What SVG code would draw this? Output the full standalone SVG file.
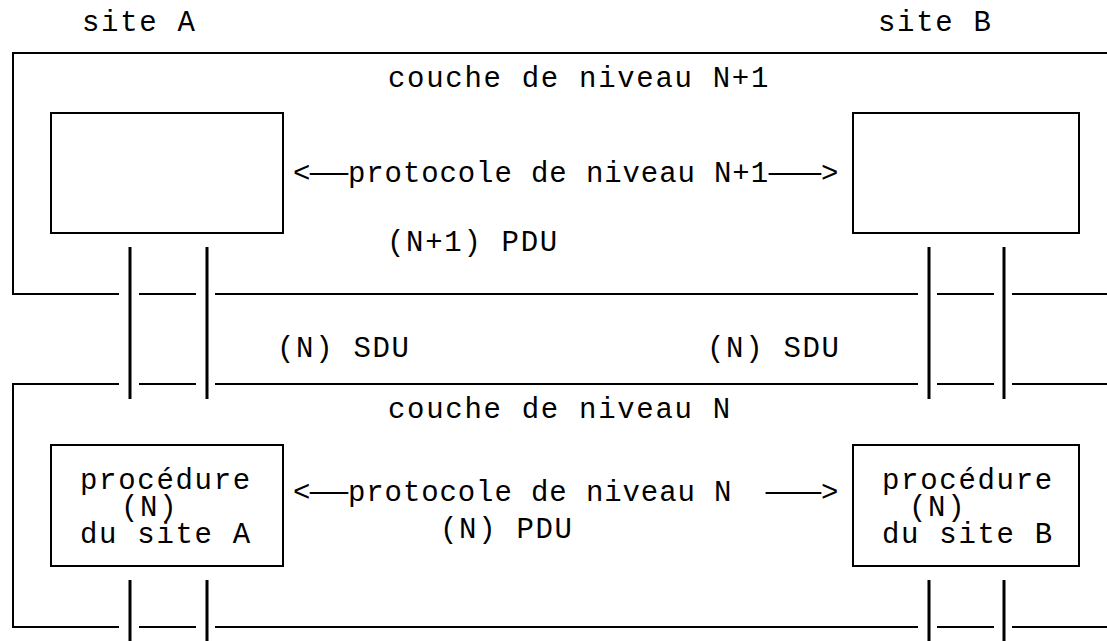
<svg xmlns="http://www.w3.org/2000/svg" width="1107" height="641" viewBox="0 0 1107 641">
<style>
text{font-family:"Courier New","Liberation Mono","DejaVu Sans Mono",monospace;font-size:29px;letter-spacing:1.7px;fill:#000;white-space:pre}
.p{letter-spacing:0.9px}
.d{letter-spacing:0}
.ln{stroke:#000;stroke-width:2;fill:none}
.vt{stroke:#000;stroke-width:3;fill:none}
.box{stroke:#000;stroke-width:2;fill:#fff}
</style>
<rect width="1107" height="641" fill="#fff"/>
<g id="labels">
<text x="82" y="31">site A</text>
<text x="878" y="31">site B</text>
<text x="388" y="87">couche de niveau N+1</text>
<text x="388" y="418">couche de niveau N</text>
<text x="387" y="251">(N+1) PDU</text>
<text x="277" y="357">(N) SDU</text>
<text x="707" y="357">(N) SDU</text>
<text x="440" y="538">(N) PDU</text>
</g>
<g id="layer-n1">
<path class="ln" d="M1107,53 H13 V294 H119 M139,294 H196 M215,294 H918 M937,294 H994 M1012,294 H1107"/>
</g>
<g id="layer-n">
<path class="ln" d="M119,384 H13 V627 H119 M139,384 H196 M215,384 H918 M937,384 H994 M1012,384 H1107 M139,627 H196 M215,627 H918 M937,627 H994 M1012,627 H1107"/>
</g>
<g id="box-a1"><rect class="box" x="51" y="113" width="232" height="120"/></g>
<g id="box-b1"><rect class="box" x="853" y="113" width="226" height="120"/></g>
<g id="box-a2">
<rect class="box" x="51" y="445" width="232" height="121"/>
<text y="489"><tspan x="80">procédure</tspan><tspan x="121" y="516">(N)</tspan><tspan x="80" y="543">du site A</tspan></text>
</g>
<g id="box-b2">
<rect class="box" x="853" y="445" width="226" height="121"/>
<text y="489"><tspan x="882">procédure</tspan><tspan x="909" y="516">(N)</tspan><tspan x="882" y="543">du site B</tspan></text>
</g>
<g id="connectors">
<path class="vt" d="M130,247 V399 M207,247 V399 M929,247 V399 M1004,247 V399 M130,580 V641 M207,580 V641 M929,580 V641 M1004,580 V641"/>
<text y="182" class="p"><tspan x="293">&lt;</tspan><tspan class="d" x="310" textLength="38" lengthAdjust="spacingAndGlyphs">—</tspan><tspan x="348">protocole de niveau N+1</tspan><tspan class="d" x="769" textLength="52" lengthAdjust="spacingAndGlyphs">—</tspan><tspan x="821">&gt;</tspan></text>
<text y="501" class="p"><tspan x="293">&lt;</tspan><tspan class="d" x="310" textLength="38" lengthAdjust="spacingAndGlyphs">—</tspan><tspan x="348">protocole de niveau N  </tspan><tspan class="d" x="766" textLength="55" lengthAdjust="spacingAndGlyphs">—</tspan><tspan x="821">&gt;</tspan></text>
</g>
</svg>
